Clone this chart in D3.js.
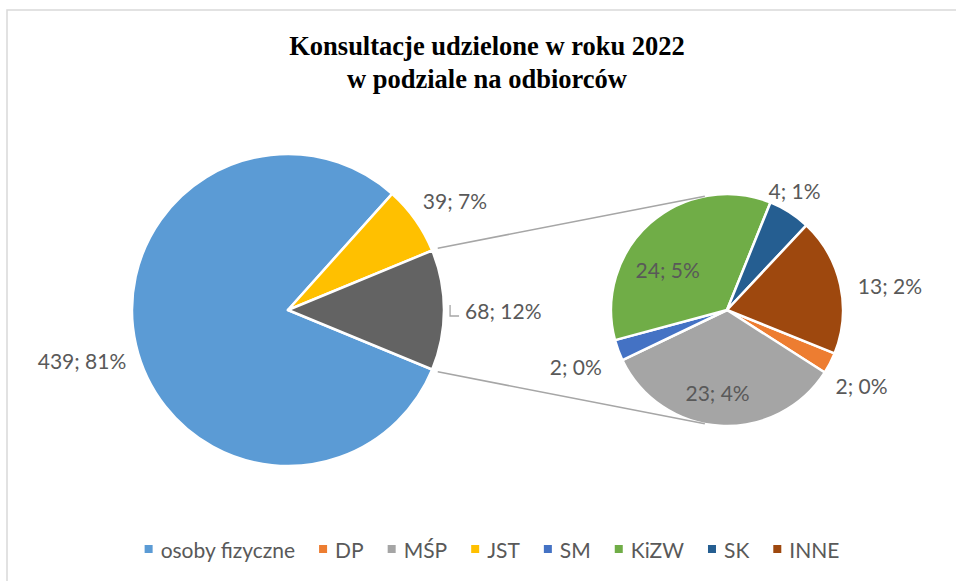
<!DOCTYPE html>
<html>
<head>
<meta charset="utf-8">
<script src="https://cdn.jsdelivr.net/npm/d3@7"></script>
<style>
  html, body { margin: 0; padding: 0; background: #fff; }
  svg { display: block; }
</style>
</head>
<body>
<svg id="chart" width="956" height="581"></svg>
<script>
// ---------------- DATA ----------------
const titleLines = ["Konsultacje udzielone w roku 2022", "w podziale na odbiorców"];

// legend / category order
const categories   = ["osoby fizyczne", "DP", "MŚP", "JST", "SM", "KiZW", "SK", "INNE"];
const values       = [439, 2, 23, 39, 2, 24, 4, 13];
// percentages as printed in the chart's data labels
const percentShown = [81, 0, 4, 7, 0, 5, 1, 2];

// which categories live in the secondary (right) pie
const secondaryCategories = ["DP", "MŚP", "SM", "KiZW", "SK", "INNE"];
// main pie order (clockwise), followed by the aggregated "other" slice
const mainCategories = ["osoby fizyczne", "JST"];
const otherPercentShown = 12;

// ---------------- STYLE ----------------
const colors = {
  "osoby fizyczne": "#5b9bd5", "DP": "#ed7d31", "MŚP": "#a5a5a5", "JST": "#ffc000",
  "SM": "#4472c4", "KiZW": "#70ad47", "SK": "#255e91", "INNE": "#9e480e", "__other": "#636363"
};
const main = { cx: 288, cy: 310, r: 156 };
const sec  = { cx: 727, cy: 310, r: 116 };
const secStartDeg = 112;
const labelFont = "Lato, 'Open Sans', sans-serif";
const labelSize = 21;
const textColor = "#595959";
const lineColor = "#a6a6a6";

// label placement (radius as fraction of pie radius, angle nudge in degrees)
const mainLabelPlace = { "osoby fizyczne": [1.36, -1], "JST": [1.28, 2], "__other": [1.38, 0] };
const secLabelPlace  = { "DP": [1.33, 2], "MŚP": [0.72, 3], "SM": [1.39, 0],
                         "KiZW": [0.62, -14], "SK": [1.18, -3], "INNE": [1.42, 4] };

// ---------------- BUILD ----------------
const svg = d3.select("#chart");
const valOf = c => values[categories.indexOf(c)];
const pctOf = c => c === "__other" ? otherPercentShown : percentShown[categories.indexOf(c)];
const otherValue = d3.sum(secondaryCategories, valOf);
const total = d3.sum(values);
const lbl = d => d.value + "; " + pctOf(d.key) + "%";

// border
svg.append("rect").attr("x", 7).attr("y", 10).attr("width", 960).attr("height", 600)
  .attr("fill", "#fff").attr("stroke", "#d9d9d9").attr("stroke-width", 1.5);

// title
const title = svg.append("text").attr("x", 487).attr("y", 55)
  .attr("text-anchor", "middle")
  .attr("font-family", "'Liberation Serif', 'Times New Roman', serif")
  .attr("font-weight", "bold").attr("font-size", 26.5).attr("fill", "#000");
titleLines.forEach((t, i) => title.append("tspan").attr("x", 487).attr("dy", i === 0 ? 0 : 33).text(t));

const rad = d => d * Math.PI / 180;
const polar = (c, ang, rr) => [c.cx + rr * Math.sin(ang), c.cy - rr * Math.cos(ang)];

// main pie
const mainData = mainCategories.map(c => ({ key: c, value: valOf(c) }))
  .concat([{ key: "__other", value: otherValue }]);
const otherAngle = otherValue / total * 2 * Math.PI;
const mainStart = Math.PI / 2 + otherAngle / 2;
const mainPie = d3.pie().sort(null).value(d => d.value)
  .startAngle(mainStart).endAngle(mainStart + 2 * Math.PI);
const mainArcs = mainPie(mainData);
const arcMain = d3.arc().innerRadius(0).outerRadius(main.r);

const gMain = svg.append("g").attr("transform", `translate(${main.cx},${main.cy})`);
gMain.selectAll("path").data(mainArcs).join("path")
  .attr("d", arcMain).attr("fill", d => colors[d.data.key])
  .attr("stroke", "#fff").attr("stroke-width", 2.5).attr("stroke-linejoin", "round");

// secondary pie
const secData = secondaryCategories.map(c => ({ key: c, value: valOf(c) }));
const secStart = rad(secStartDeg);
const secPie = d3.pie().sort(null).value(d => d.value)
  .startAngle(secStart).endAngle(secStart + 2 * Math.PI);
const secArcs = secPie(secData);
const arcSec = d3.arc().innerRadius(0).outerRadius(sec.r);

const gSec = svg.append("g").attr("transform", `translate(${sec.cx},${sec.cy})`);
gSec.selectAll("path").data(secArcs).join("path")
  .attr("d", arcSec).attr("fill", d => colors[d.data.key])
  .attr("stroke", "#fff").attr("stroke-width", 2.5).attr("stroke-linejoin", "round");

// connector lines: from "other" slice edges to tangent points on secondary pie
const otherArc = mainArcs.find(d => d.data.key === "__other");
function tangentPoint(P, upper) {
  const dx = P[0] - sec.cx, dy = P[1] - sec.cy;
  const d = Math.hypot(dx, dy);
  const base = Math.atan2(dy, dx);
  const a = Math.acos(sec.r / d);
  const ang = upper ? base + a : base - a;
  return [sec.cx + sec.r * Math.cos(ang), sec.cy + sec.r * Math.sin(ang)];
}
[[otherArc.startAngle, true], [otherArc.endAngle, false]].forEach(([ang, upper]) => {
  const P = polar(main, ang, main.r + 6);
  const T = tangentPoint(P, upper);
  svg.append("line").attr("x1", P[0]).attr("y1", P[1]).attr("x2", T[0]).attr("y2", T[1])
    .attr("stroke", lineColor).attr("stroke-width", 1.5);
});

// labels
function addLabel(c, arcd, placeDict) {
  const key = arcd.data.key;
  const [k, nudge] = placeDict[key];
  const mid = (arcd.startAngle + arcd.endAngle) / 2 + rad(nudge);
  const p = polar(c, mid, c.r * k);
  svg.append("text").attr("x", p[0]).attr("y", p[1])
    .attr("text-anchor", "middle").attr("dominant-baseline", "central")
    .attr("font-family", labelFont).attr("font-size", labelSize).attr("fill", textColor)
    .text(lbl(arcd.data));
  return p;
}
mainArcs.forEach(a => addLabel(main, a, mainLabelPlace));
secArcs.forEach(a => addLabel(sec, a, secLabelPlace));

// leader line for the "other" label
{
  const mid = (otherArc.startAngle + otherArc.endAngle) / 2;
  const p = polar(main, mid, main.r * mainLabelPlace["__other"][0]);
  const tl = svg.append("text").attr("font-family", labelFont).attr("font-size", labelSize)
    .text(lbl({ key: "__other", value: otherValue })).attr("opacity", 0);
  const w = tl.node().getComputedTextLength(); tl.remove();
  const xL = p[0] - w / 2 - 6;
  svg.append("path").attr("d", `M${xL - 9},${p[1] - 5}V${p[1] + 6}H${xL}`)
    .attr("fill", "none").attr("stroke", lineColor).attr("stroke-width", 1.3);
}

// legend
const legendY = 549, mk = 8, mkGap = 8, itemGap = 24;
const lg = svg.append("g");
const items = categories.map(c => {
  const g = lg.append("g");
  g.append("rect").attr("width", mk).attr("height", mk).attr("y", -mk / 2).attr("fill", colors[c]);
  const t = g.append("text").attr("x", mk + mkGap).attr("dominant-baseline", "central")
    .attr("font-family", labelFont).attr("font-size", labelSize).attr("fill", textColor).text(c);
  return { g, w: mk + mkGap + t.node().getComputedTextLength() };
});
const totalW = d3.sum(items, d => d.w) + itemGap * (items.length - 1);
let x = 492 - totalW / 2;
items.forEach(it => { it.g.attr("transform", `translate(${x},${legendY})`); x += it.w + itemGap; });
</script>
</body>
</html>
